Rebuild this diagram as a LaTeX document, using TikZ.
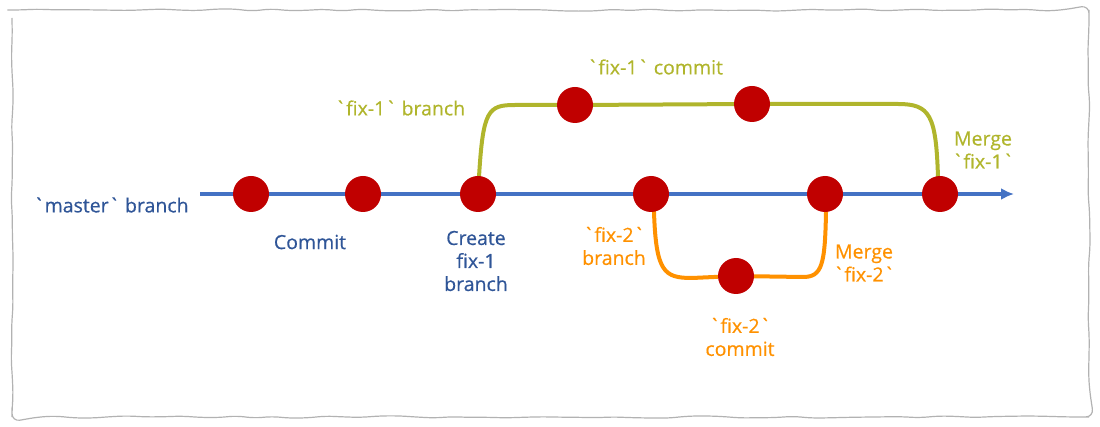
\documentclass[tikz,border=0pt]{standalone}
\usepackage{fontspec}
\setmainfont{Open Sans}
\usetikzlibrary{arrows.meta,decorations.pathmorphing,backgrounds}
\definecolor{mblue}{HTML}{4472C4}
\definecolor{tblue}{HTML}{2F5597}
\definecolor{cred}{HTML}{C00000}
\definecolor{olv}{HTML}{B0B52C}
\definecolor{org}{HTML}{FF9100}
\newcommand{\bq}{\textasciigrave}
\tikzset{
  commitnode/.style={circle, fill=cred, minimum size=36pt, inner sep=0pt},
  lbl/.style={font=\fontsize{19.5}{23}\selectfont\addfontfeature{FakeBold=0.5}, align=center, inner sep=0pt},
  branchline/.style={line width=4pt},
}
\begin{document}
\begin{tikzpicture}[x=1pt,y=-1pt]
\useasboundingbox (0,0) rectangle (1100,427);
\pgfmathsetseed{7}
\draw[gray!60, line width=1.2pt, decorate, decoration={random steps, segment length=18pt, amplitude=1.2pt}, rounded corners=8pt]
  (12,10) rectangle (1089,417);
% commits
\node[commitnode] (c1) at (251,194) {};
\node[commitnode] (c2) at (363,194) {};
\node[commitnode] (c3) at (478,194) {};
\node[commitnode] (c4) at (651,194) {};
\node[commitnode] (c5) at (825,194) {};
\node[commitnode] (c6) at (940,194) {};
\node[commitnode] (f1a) at (575,105) {};
\node[commitnode] (f1b) at (752,104) {};
\node[commitnode] (f2a) at (736,276) {};
\coordinate (mstart) at (200,194);
\coordinate (mend) at (1014,194);
\begin{pgfonlayer}{background}
\draw[branchline, mblue, -{Latex[length=13pt,width=12pt]}] (mstart) -- (mend);
\draw[branchline, olv] (c3.center) -- (479,177) .. controls (483,110) and (488,105) .. (515,105) -- (f1a) -- (f1b) -- (898,104)
   .. controls (930,104) and (936,115) .. (938,177) -- (c6.center);
\draw[branchline, org] (c4.center) -- (654,212) .. controls (656,272) and (664,278) .. (692,278) -- (f2a) -- (803,277)
   .. controls (822,277) and (825,265) .. (826,212) -- (c5.center);
\end{pgfonlayer}
% labels
\node[lbl, text=tblue] (lmaster) at (111,205) {\bq master\bq{} branch};
\node[lbl, text=tblue] (lcommit) at (310,242) {Commit};
\node[lbl, text=tblue] (lcreate) at (476,261) {Create\\fix-1\\branch};
\node[lbl, text=olv] (lf1b) at (400,108) {\bq fix-1\bq{} branch};
\node[lbl, text=olv] (lf1c) at (655,67) {\bq fix-1\bq{} commit};
\node[lbl, text=olv] (lm1) at (983,150) {Merge\\\bq fix-1\bq};
\node[lbl, text=org] (lf2b) at (614,246) {\bq fix-2\bq\\branch};
\node[lbl, text=org] (lm2) at (864,263) {Merge\\\bq fix-2\bq};
\node[lbl, text=org] (lf2c) at (740,337) {\bq fix-2\bq\\commit};
\end{tikzpicture}
\end{document}
